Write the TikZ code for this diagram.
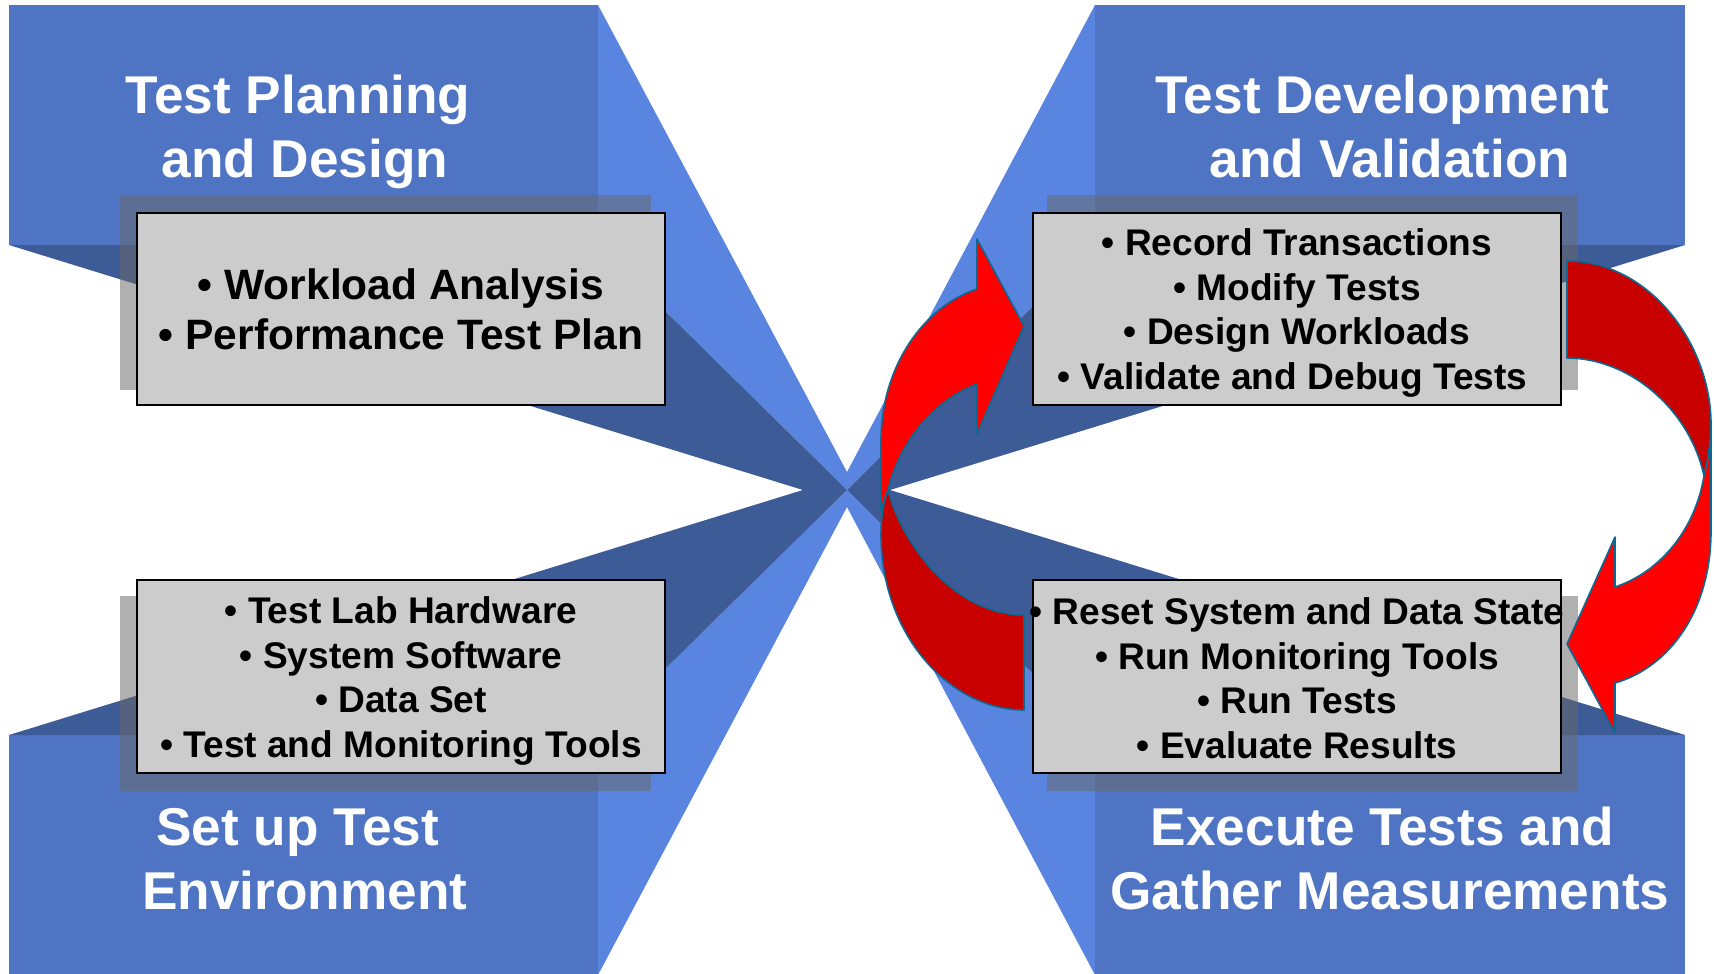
\documentclass[tikz,border=0pt]{standalone}
\usepackage{fontspec}
\setmainfont{Liberation Sans}
\definecolor{mainblue}{HTML}{4E74C3}
\definecolor{lightblue}{HTML}{5985E0}
\definecolor{darkblue}{HTML}{3D5B97}
\definecolor{shadowgrey}{HTML}{696969}
\definecolor{boxgrey}{HTML}{CCCCCC}
\definecolor{arrowline}{HTML}{0A6A94}
\definecolor{arrowdark}{HTML}{C80000}
\definecolor{arrowbright}{HTML}{FF0000}
\tikzset{
  panel/.style={fill=mainblue,draw=none},
  lightfold/.style={fill=lightblue,draw=none},
  darkfold/.style={fill=darkblue,draw=none},
  shadowbox/.style={fill=shadowgrey,fill opacity=.525,draw=none},
  listbox/.style={fill=boxgrey,draw=black,line width=2pt},
  listtext/.style={align=center,text=black,inner sep=0pt,font=\fontsize{37.1}{44.5}\selectfont\bfseries},
  listbig/.style={align=center,text=black,inner sep=0pt,font=\fontsize{42.5}{50}\selectfont\bfseries},
  titletext/.style={align=center,text=white,inner sep=0pt,font=\fontsize{53.2}{64}\selectfont\bfseries},
  arrowbody/.style={draw=arrowline,line width=1.6pt,line join=round},
}
\begin{document}
\begin{tikzpicture}[x=1pt,y=-1pt]
\useasboundingbox (0,0) rectangle (1714,974);
% panels
\fill[panel] (9,5) rectangle (598,245);
\fill[panel] (1095,5) rectangle (1685,245);
\fill[panel] (9,735) rectangle (598,975);
\fill[panel] (1095,735) rectangle (1685,975);
% light folds
\fill[lightfold] (598,5) -- (847,472) -- (847,490) -- (598,245) -- cycle;
\fill[lightfold] (1095,5) -- (847,472) -- (847,490) -- (1095,245) -- cycle;
\fill[lightfold] (598,975) -- (847,507) -- (847,490) -- (598,735) -- cycle;
\fill[lightfold] (1095,975) -- (847,507) -- (847,490) -- (1095,735) -- cycle;
% dark folds
\fill[darkfold] (9,245) -- (803,490) -- (847,490) -- (598,245) -- cycle;
\fill[darkfold] (1685,245) -- (890,490) -- (847,490) -- (1095,245) -- cycle;
\fill[darkfold] (9,735) -- (803,490) -- (847,490) -- (598,735) -- cycle;
\fill[darkfold] (1685,735) -- (890,490) -- (847,490) -- (1095,735) -- cycle;
% shadows
\fill[shadowbox] (120,195) rectangle (651,390);
\fill[shadowbox] (1047,195) rectangle (1578,390);
\fill[shadowbox] (120,596) rectangle (651,791);
\fill[shadowbox] (1047,596) rectangle (1578,791);
% boxes
\draw[listbox] (137,213) rectangle (665,405);
\draw[listbox] (1033,213) rectangle (1561,405);
\draw[listbox] (137,580) rectangle (665,773);
\draw[listbox] (1033,580) rectangle (1561,773);
\coordinate (tlc) at (401,309);
\coordinate (trc) at (1297,313);
\coordinate (blc) at (401,681);
\coordinate (brc) at (1297,678);
% list text
\node[listbig] (tltext) at (tlc) {• Workload Analysis\\• Performance Test Plan};
\node[listtext] (trtext) at (trc) {• Record Transactions\\• Modify Tests\\• Design Workloads\\• Validate and Debug Tests\hspace*{9pt}};
\node[listtext] (bltext) at (blc) {• Test Lab Hardware\\• System Software\\• Data Set\\• Test and Monitoring Tools};
\node[listtext] (brtext) at (brc) {• Reset System and Data State\\• Run Monitoring Tools\\• Run Tests\\• Evaluate Results};
% titles
\node[titletext] (tltitle) at (305,132) {Test Planning\hspace*{14pt}\\and Design};
\node[titletext] (trtitle) at (1390,126.5) {Test Development\hspace*{15pt}\\and Validation};
\node[titletext] (bltitle) at (305,859) {Set up Test\hspace*{15pt}\\Environment};
\node[titletext] (brtitle) at (1390,858.5) {Execute Tests and\hspace*{15pt}\\Gather Measurements};
% left curved arrow
\draw[arrowbody,fill=arrowdark] (888,490) .. controls (902,545) and (955,615) .. (1024,615)
  -- (1024,710) .. controls (950,710) and (881,635) .. (881,535)
  .. controls (881,515) and (884,500) .. cycle;
\draw[arrowbody,fill=arrowbright] (1024,326) -- (977,239) -- (977,289)
  .. controls (925,306) and (881,365) .. (881,441) -- (881,510)
  .. controls (883,503) and (885,497) .. (888,490)
  .. controls (900,440) and (935,400) .. (977,384) -- (977,434) -- cycle;
% right curved arrow
\draw[arrowbody,fill=arrowdark] (1567,261) .. controls (1650,261) and (1711,345) .. (1711,424)
  .. controls (1711,442) and (1708,460) .. (1704,476)
  .. controls (1690,410) and (1630,358) .. (1567,358) -- cycle;
\draw[arrowbody,fill=arrowbright] (1567,644) -- (1615,537) -- (1615,587)
  .. controls (1660,572) and (1695,530) .. (1704,476)
  .. controls (1708,460) and (1711,442) .. (1711,424) -- (1711,531)
  .. controls (1711,610) and (1670,667) .. (1615,683) -- (1615,733) -- cycle;
\end{tikzpicture}
\end{document}
